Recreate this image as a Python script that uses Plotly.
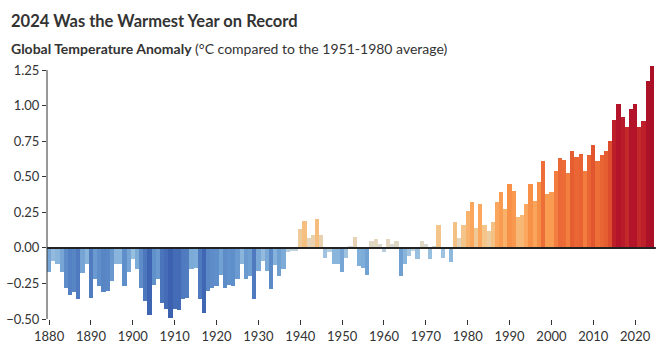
import plotly.graph_objects as go

years = list(range(1880, 2025))
anomaly = [
    -0.17, -0.09, -0.11, -0.17, -0.28, -0.33, -0.31, -0.36, -0.18, -0.11,
    -0.35, -0.22, -0.27, -0.31, -0.30, -0.23, -0.11, -0.11, -0.27, -0.17,
    -0.08, -0.15, -0.28, -0.37, -0.47, -0.26, -0.22, -0.39, -0.43, -0.49,
    -0.43, -0.44, -0.36, -0.35, -0.15, -0.14, -0.36, -0.46, -0.30, -0.28,
    -0.27, -0.19, -0.28, -0.26, -0.27, -0.22, -0.11, -0.22, -0.20, -0.36,
    -0.16, -0.09, -0.16, -0.29, -0.12, -0.20, -0.15, -0.03, -0.02, -0.02,
    0.13, 0.19, 0.07, 0.09, 0.20, 0.09, -0.07, -0.03, -0.11, -0.11,
    -0.17, -0.07, 0.01, 0.08, -0.13, -0.14, -0.19, 0.05, 0.06, 0.03,
    -0.03, 0.06, 0.03, 0.05, -0.20, -0.11, -0.06, -0.02, -0.08, 0.05,
    0.03, -0.08, 0.01, 0.16, -0.07, -0.01, -0.10, 0.18, 0.07, 0.16,
    0.26, 0.32, 0.14, 0.31, 0.16, 0.12, 0.18, 0.32, 0.39, 0.27,
    0.45, 0.40, 0.22, 0.23, 0.31, 0.45, 0.33, 0.46, 0.61, 0.38,
    0.39, 0.54, 0.63, 0.62, 0.53, 0.68, 0.64, 0.66, 0.54, 0.65,
    0.72, 0.61, 0.65, 0.68, 0.75, 0.90, 1.01, 0.92, 0.85, 0.98,
    1.01, 0.85, 0.89, 1.17, 1.28,
]
x_ticks = list(range(1880, 2021, 10))
y_ticks = [-0.50, -0.25, 0.00, 0.25, 0.50, 0.75, 1.00, 1.25]
y_tick_labels = ["\u22120.50", "\u22120.25", "0.00", "0.25", "0.50", "0.75", "1.00", "1.25"]

title_text = "2024 Was the Warmest Year on Record"
subtitle_bold = "Global Temperature Anomaly"
subtitle_rest = " (°C compared to the 1951-1980 average)"

cmin, cmax = -0.5, 1.3
stops = [
    (-0.50, "#3a5fae"), (-0.38, "#4b76bd"), (-0.25, "#6393cc"), (-0.12, "#84b2dc"),
    (-0.04, "#aecbe0"), (0.00, "#cdd8dc"), (0.06, "#e4d6bf"), (0.16, "#f3c58a"),
    (0.30, "#fbaa60"), (0.45, "#f79147"), (0.60, "#ee7038"), (0.74, "#df502d"),
    (0.84, "#c42a2b"), (0.95, "#b5152a"), (1.30, "#a90f26"),
]
colorscale = [[(v - cmin) / (cmax - cmin), c] for v, c in stops]

font_family = "Lato, 'Open Sans', sans-serif"

fig = go.Figure()
fig.add_trace(go.Bar(
    x=years, y=anomaly,
    marker=dict(color=anomaly, colorscale=colorscale, cmin=cmin, cmax=cmax,
                line=dict(width=0)),
    hovertemplate="%{x}: %{y:.2f} °C<extra></extra>",
))

fig.update_layout(
    width=660, height=350,
    margin=dict(l=44, r=6, t=63, b=28),
    paper_bgcolor="white", plot_bgcolor="white",
    bargap=0, showlegend=False,
    font=dict(family=font_family, color="#333333", size=13),
    xaxis=dict(range=[1879.5, 2024.5], tickvals=x_ticks, ticks="outside",
               ticklen=5, tickcolor="#333333", tickwidth=1, showgrid=False,
               zeroline=False, showline=False, fixedrange=True),
    yaxis=dict(range=[-0.5, 1.30], tickvals=y_ticks, ticktext=y_tick_labels,
               ticks="outside", ticklen=4, tickcolor="#333333", tickwidth=1,
               showgrid=False, zeroline=False, showline=False, fixedrange=True),
    shapes=[
        dict(type="line", xref="paper", yref="y", x0=0, x1=0, y0=-0.5, y1=1.25,
             line=dict(color="#333333", width=1)),
        dict(type="line", xref="paper", yref="y", x0=0, x1=1.003, y0=0, y1=0,
             line=dict(color="#222222", width=2)),
    ],
    annotations=[
        dict(text="<b>" + title_text + "</b>", xref="paper", yref="paper",
             x=-0.062, y=1.163, xanchor="left", yanchor="middle", showarrow=False,
             font=dict(size=16.5, color="#333333", family=font_family)),
        dict(text="<b>" + subtitle_bold + "</b>" + subtitle_rest, xref="paper", yref="paper",
             x=-0.062, y=1.055, xanchor="left", yanchor="middle", showarrow=False,
             font=dict(size=14, color="#333333", family=font_family)),
    ],
)

fig.write_html("out.html")
